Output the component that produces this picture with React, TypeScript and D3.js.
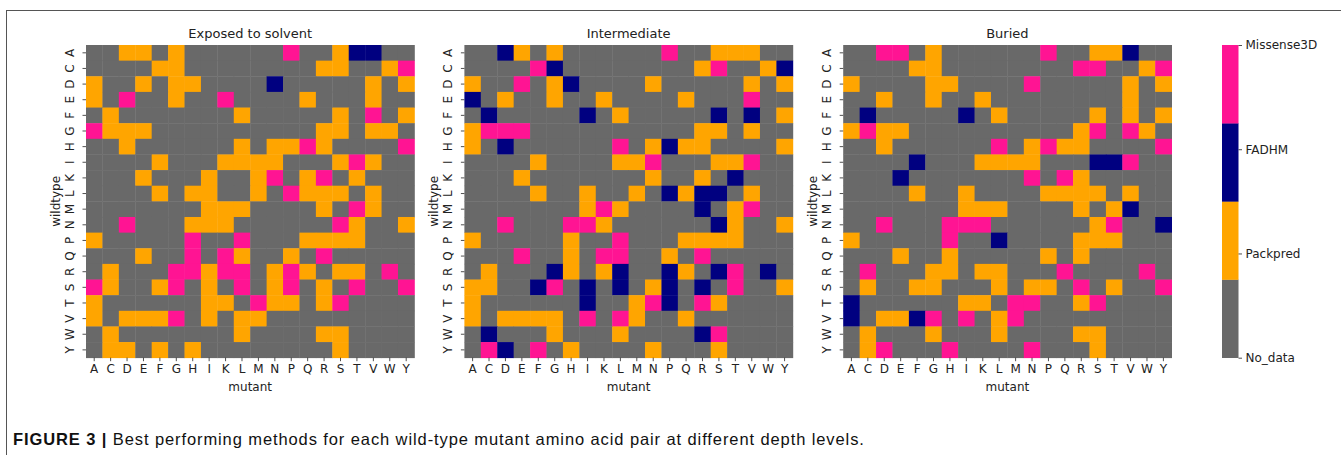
import { useEffect, useRef } from 'react';
import * as d3 from 'd3';

const AMINO = ['A', 'C', 'D', 'E', 'F', 'G', 'H', 'I', 'K', 'L', 'M', 'N', 'P', 'Q', 'R', 'S', 'T', 'V', 'W', 'Y'];
const CATEGORIES = ['No_data', 'Packpred', 'FADHM', 'Missense3D'];
const COLORS = ['#696969', '#FFA500', '#000080', '#FF1493'];
const PANEL_TITLES = ['Exposed to solvent', 'Intermediate', 'Buried'];

// one string per wildtype row, one char per mutant column
// . = No_data, o = Packpred, n = FADHM, p = Missense3D
const exposedRows = [
	'..oo.o......p..onn..',
	'....oo........oo..op',
	'o..o.oo....n.....o.o',
	'o.p..o..p....o...o..',
	'.o.......o.....o.p.o',
	'pooo..........oo.oo.',
	'..o......o.oopo....p',
	'....o...oooo...opo..',
	'...o...o..op.op.o...',
	'....o.oo..o.pooo.o..',
	'.......ooo....o.po..',
	'..p...ooo......po..o',
	'o.....p..p...oooo...',
	'...o..p.po..o.p.....',
	'.o...ppopp.opo.oo.p.',
	'po..op.o.p.op.o.p..p',
	'o......oo.poo.op....',
	'o.ooop.o.oo.........',
	'.o.......o....oo....',
	'.oo.o.o........o....',
];

const intermediateRows = [
	'..no.o......p..ooo..',
	'....pn........op..on',
	'o..p.on....o.....o.o',
	'n.o..o..o....o...p..',
	'.n.....n.o.....n.n.o',
	'oppp..........oo.o..',
	'o.n......p.onoo....o',
	'....o....oop...oop..',
	'...o.......o..o.n...',
	'....o..o..o.nonn.o..',
	'.......opo....n.op..',
	'..p...ppo......no..o',
	'o.....o..p...oooo...',
	'...p..o.pp..o.p.....',
	'.o...no.on..no.np.n.',
	'oo..np.n.n.on.n.p..o',
	'o......n..opn.po....',
	'o.oooo.p.po..o......',
	'.n...o...o....np....',
	'.pn.p.o....o...o....',
];

const buriedRows = [
	'..pp.o......p..oon..',
	'....oo........pp..op',
	'o....oo....p.....o.o',
	'..o..o..o........o..',
	'.n.....n.o.....o.o.o',
	'opoo..........op.po.',
	'..o......p.opoo....p',
	'....n...oooo...nnp..',
	'...n.......p.po.....',
	'....o..o....oooo.o..',
	'.......ooo....o.on..',
	'..p...ppp......op..n',
	'o.....p..n....ooo...',
	'...o..o.....o.o.....',
	'.p...oo.oo...p....p.',
	'.o..oo...o.oo.p.o..p',
	'n......oo.pp..op....',
	'n.oonp.p.op.........',
	'.o...o...o....oo....',
	'.op...p....p...o....',
];

const CODE = { '.': 0, o: 1, n: 2, p: 3 };

const W = 1341;
const H = 455;
const PANEL_LEFT = [86, 464.4, 843.2];
const PANEL_W = 328.4;
const GRID_TOP = 45;
const GRID_BOTTOM = 357.7;
const FONT = 'DejaVu Sans, sans-serif';

export default function App() {
	const svgRef = useRef(null);

	useEffect(() => {
		const svg = d3.select(svgRef.current);
		svg.selectAll('*').remove();

		const color = d3.scaleOrdinal().domain([0, 1, 2, 3]).range(COLORS);
		const panels = [exposedRows, intermediateRows, buriedRows];

		// figure frame
		svg.append('line').attr('x1', 6).attr('x2', W).attr('y1', 10.5).attr('y2', 10.5).attr('stroke', '#555');
		svg.append('line').attr('x1', 6.5).attr('x2', 6.5).attr('y1', 10).attr('y2', H).attr('stroke', '#555');

		const y = d3.scaleBand().domain(AMINO).range([GRID_TOP, GRID_BOTTOM]);

		panels.forEach((rows, pi) => {
			const left = PANEL_LEFT[pi];
			const x = d3.scaleBand().domain(AMINO).range([left, left + PANEL_W]);
			const cells = rows.flatMap((row, i) =>
				row.split('').map((c, j) => ({ wt: AMINO[i], mut: AMINO[j], v: CODE[c] })),
			);

			const g = svg.append('g');
			g.selectAll('rect')
				.data(cells)
				.join('rect')
				.attr('x', d => x(d.mut))
				.attr('y', d => y(d.wt))
				.attr('width', x.bandwidth() + 0.4)
				.attr('height', y.bandwidth() + 0.4)
				.attr('fill', d => color(d.v));

			const xAxis = g
				.append('g')
				.attr('transform', `translate(0,${GRID_BOTTOM})`)
				.call(d3.axisBottom(x).tickSize(3.5).tickPadding(3.5));
			xAxis.select('.domain').remove();
			xAxis.selectAll('text').attr('font-size', 12).attr('font-family', FONT).attr('fill', '#222');
			xAxis.selectAll('line').attr('stroke', '#222').attr('stroke-width', 0.8);

			const yAxis = g
				.append('g')
				.attr('transform', `translate(${left},0)`)
				.call(d3.axisLeft(y).tickSize(3.5).tickPadding(3.5));
			yAxis.select('.domain').remove();
			yAxis
				.selectAll('text')
				.attr('font-size', 12)
				.attr('font-family', FONT)
				.attr('fill', '#222')
				.attr('text-anchor', 'middle')
				.attr('x', 0)
				.attr('y', -12.5)
				.attr('dy', 0)
				.attr('transform', 'rotate(-90)');
			yAxis.selectAll('line').attr('stroke', '#222').attr('stroke-width', 0.8);

			g.append('text')
				.attr('x', left + PANEL_W / 2)
				.attr('y', 38)
				.attr('text-anchor', 'middle')
				.attr('font-size', 13)
				.attr('font-family', FONT)
				.attr('fill', '#222')
				.text(PANEL_TITLES[pi]);

			g.append('text')
				.attr('x', left + PANEL_W / 2)
				.attr('y', 391)
				.attr('text-anchor', 'middle')
				.attr('font-size', 12)
				.attr('font-family', FONT)
				.attr('fill', '#222')
				.text('mutant');

			g.append('text')
				.attr('transform', `translate(${left - 26},${(GRID_TOP + GRID_BOTTOM) / 2}) rotate(-90)`)
				.attr('text-anchor', 'middle')
				.attr('font-size', 12)
				.attr('font-family', FONT)
				.attr('fill', '#222')
				.text('wildtype');
		});

		// colorbar
		const cbX = 1222;
		const cbW = 16.5;
		const cb = d3.scaleLinear().domain([0, 3]).range([GRID_BOTTOM, GRID_TOP]);
		const step = 3 / CATEGORIES.length;
		const cbg = svg.append('g');
		cbg.selectAll('rect')
			.data(CATEGORIES.map((c, i) => i))
			.join('rect')
			.attr('x', cbX)
			.attr('width', cbW)
			.attr('y', i => cb((i + 1) * step))
			.attr('height', i => cb(i * step) - cb((i + 1) * step) + 0.3)
			.attr('fill', i => color(i));

		const cbAxis = cbg
			.append('g')
			.attr('transform', `translate(${cbX + cbW},0)`)
			.call(
				d3
					.axisRight(cb)
					.tickValues([0, 1, 2, 3])
					.tickFormat(i => CATEGORIES[i])
					.tickSize(3.5)
					.tickPadding(3.5),
			);
		cbAxis.select('.domain').remove();
		cbAxis.selectAll('text').attr('font-size', 12).attr('font-family', FONT).attr('fill', '#222');
		cbAxis.selectAll('line').attr('stroke', '#222').attr('stroke-width', 0.8);

		// caption
		const cap = svg
			.append('text')
			.attr('x', 13)
			.attr('y', 445)
			.attr('font-size', 16.5)
			.attr('letter-spacing', 0.9)
			.attr('font-family', 'Liberation Sans, Arial, sans-serif')
			.attr('fill', '#111');
		cap.append('tspan').attr('font-weight', 'bold').text('FIGURE 3 | ');
		cap.append('tspan').text('Best performing methods for each wild-type mutant amino acid pair at different depth levels.');
	}, []);

	return (
		<svg
			ref={svgRef}
			width={W}
			height={H}
			style={{ position: 'absolute', left: 0, top: 0, background: '#fff' }}
		></svg>
	);
}
